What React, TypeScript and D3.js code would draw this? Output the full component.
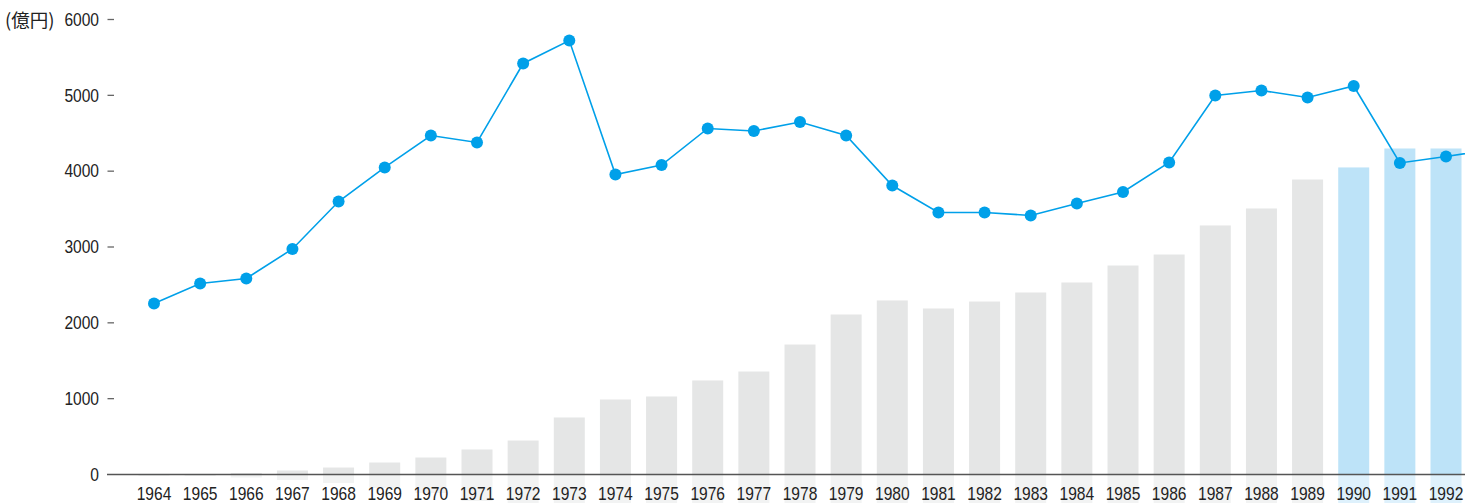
import React from "react";
import * as d3 from "d3";

const years = [1964,1965,1966,1967,1968,1969,1970,1971,1972,1973,1974,1975,1976,1977,1978,1979,1980,1981,1982,1983,1984,1985,1986,1987,1988,1989,1990,1991,1992];
const lineYears = [...years, 1993];
const lineValues = [2255,2519,2585,2974,3600,4049,4470,4378,5420,5723,3956,4081,4563,4530,4649,4470,3811,3455,3455,3416,3574,3725,4114,4998,5064,4972,5123,4108,4194,4285];
const barValues = [0,0,20,53,92,158,224,330,448,752,989,1029,1240,1358,1714,2110,2295,2189,2281,2400,2532,2756,2901,3284,3508,3890,4049,4299,4299];
const highlightYears = [1990,1991,1992];
const yTicks = [0,1000,2000,3000,4000,5000,6000];
const unitLabel = "(億円)";

const W = 1465, H = 503;
const font = '"Liberation Sans", Arial, sans-serif';
const SX = 0.89;

export default function App() {
  const x = d3.scalePoint<number>().domain(lineYears).range([154, 154 + 29 * 46.143]);
  const y = d3.scaleLinear().domain([0, 6000]).range([474.5, 19.5]);
  const y0 = y(0);
  const bw = 31;
  const line = d3.line<number>().x((_, i) => x(lineYears[i])!).y(d => y(d));

  return (
    <div style={{ position: "absolute", left: 0, top: 0 }}>
      <svg width={W} height={H} style={{ display: "block" }}>
        {barValues.map((v, i) => {
          const hl = highlightYears.includes(years[i]);
          const h = y0 - y(v);
          return (
            <rect key={"r" + i} x={x(years[i])! - bw / 2} y={y0} width={bw} height={h + 1.5}
              fill={hl ? "#def1fc" : "#f2f3f3"} />
          );
        })}
        {barValues.map((v, i) => {
          const hl = highlightYears.includes(years[i]);
          return (
            <rect key={"b" + i} x={x(years[i])! - bw / 2} y={y(v)} width={bw} height={y0 - y(v)}
              fill={hl ? "#bde3f8" : "#e5e6e6"} />
          );
        })}
        <line x1={107} x2={W} y1={y0} y2={y0} stroke="#555" strokeWidth={1.5} />
        {yTicks.map(t => (
          <g key={t}>
            {t > 0 && <line x1={107.5} x2={114} y1={y(t)} y2={y(t)} stroke="#666" strokeWidth={1.3} />}
            <text transform={`translate(99,${y(t) + 6.3}) scale(${SX},1)`} textAnchor="end" fontFamily={font} fontSize={17.5} fill="#222">{t}</text>
          </g>
        ))}
        <text x={5} y={y(6000) + 7} fontFamily='"Noto Sans CJK JP", sans-serif' fontSize={18.5} fill="#222">{unitLabel}</text>
        {years.map(yr => (
          <text key={yr} transform={`translate(${x(yr)},499.5) scale(${SX},1)`} textAnchor="middle" fontFamily={font} fontSize={17.5} fill="#222">{yr}</text>
        ))}
        <path d={line(lineValues) || ""} fill="none" stroke="#00a0e9" strokeWidth={1.6} />
        {lineValues.map((v, i) => (
          <circle key={"c" + i} cx={x(lineYears[i])} cy={y(v)} r={6} fill="#00a0e9" />
        ))}
      </svg>
    </div>
  );
}
